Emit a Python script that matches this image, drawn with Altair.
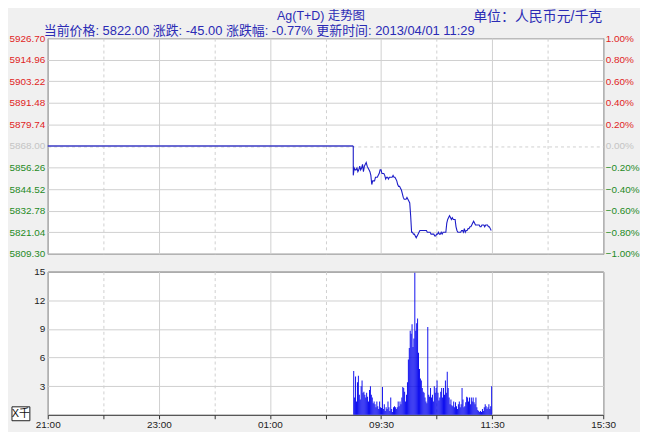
import altair as alt
import pandas as pd

# ---------------- data ----------------
preclose = 5868.00
price_ticks = [5809.30, 5821.04, 5832.78, 5844.52, 5856.26, 5868.00,
               5879.74, 5891.48, 5903.22, 5914.96, 5926.70]
pct_ticks = [-1.0, -0.8, -0.6, -0.4, -0.2, 0.0, 0.2, 0.4, 0.6, 0.8, 1.0]
vol_ticks = [3, 6, 9, 12, 15]
vol_max = 15
time_labels = ["21:00", "23:00", "01:00", "09:30", "11:30", "15:30"]
time_label_minutes = [0, 120, 240, 360, 480, 600]
time_half_minutes = [60, 180, 300, 420, 540]
session_minutes = 600
open_minute = 330  # 09:00 as trading-minute index of the session

# one value per trading minute from 09:00 to 11:29
prices = [
    5852, 5856, 5855, 5855, 5856, 5854, 5855, 5857, 5855, 5856,
    5858, 5854, 5857, 5858, 5859, 5857, 5856, 5855, 5854, 5852,
    5847, 5849, 5849, 5849, 5851, 5851, 5851, 5852, 5853, 5855,
    5855, 5853, 5853, 5853, 5852, 5850, 5851, 5851, 5850, 5851,
    5851, 5851, 5851, 5852, 5851, 5851, 5850, 5849, 5847, 5846,
    5846, 5845, 5844, 5842, 5840, 5839, 5839, 5839, 5840, 5839,
    5838, 5837, 5830, 5821, 5821, 5820, 5820, 5819, 5818, 5819,
    5820, 5821, 5822, 5822, 5822, 5822, 5822, 5822, 5822, 5822,
    5821, 5821, 5821, 5821, 5820, 5820, 5820, 5820, 5819, 5819,
    5820, 5820, 5821, 5820, 5820, 5821, 5820, 5821, 5821, 5821,
    5821, 5826, 5828, 5829, 5830, 5829, 5828, 5829, 5828, 5828,
    5828, 5824, 5822, 5821, 5821, 5821, 5821, 5822, 5822, 5821,
    5823, 5821, 5822, 5822, 5823, 5823, 5824, 5824, 5825, 5826,
    5827, 5826, 5825, 5825, 5825, 5825, 5825, 5824, 5824, 5825,
    5825, 5825, 5824, 5825, 5825, 5825, 5824, 5824, 5823, 5822,
]
volumes = [
    4.6, 1.8, 4.0, 1.4, 3.4, 4.1, 2.1, 1.6, 3.0, 3.6,
    2.3, 2.4, 2.1, 1.8, 2.3, 1.9, 1.4, 2.6, 3.0, 2.1,
    1.8, 1.2, 1.4, 1.1, 0.8, 1.4, 0.9, 0.6, 1.4, 0.8,
    0.7, 2.9, 0.6, 1.1, 0.4, 0.8, 0.6, 1.4, 0.8, 0.4,
    1.8, 0.6, 0.3, 0.8, 0.9, 0.8, 0.6, 0.8, 1.4, 0.9,
    1.4, 1.1, 1.8, 2.9, 2.8, 2.4, 1.4, 2.1, 3.4, 5.8,
    7.0, 8.8, 8.5, 9.5, 7.1, 8.0, 14.9, 8.8, 9.6, 10.1,
    6.5, 4.8, 3.8, 3.6, 2.8, 2.4, 2.3, 1.8, 1.4, 1.2,
    9.2, 2.1, 1.9, 2.8, 1.8, 2.1, 1.4, 3.0, 2.3, 2.8,
    3.6, 2.3, 1.5, 1.8, 2.4, 2.8, 1.8, 2.8, 2.1, 3.6,
    2.3, 4.5, 2.8, 1.8, 1.1, 1.6, 1.0, 0.9, 1.4, 0.8,
    1.3, 0.9, 0.6, 1.1, 1.4, 0.8, 1.1, 2.8, 1.6, 0.8,
    0.9, 1.3, 1.9, 1.8, 1.4, 1.8, 1.1, 1.8, 1.4, 1.8,
    1.3, 1.1, 1.8, 0.8, 0.5, 0.4, 0.3, 0.4, 0.3, 0.6,
    0.4, 0.8, 1.1, 0.9, 0.6, 0.8, 1.1, 0.6, 0.9, 3.0,
]

title_main = "Ag(T+D) 走势图"
title_unit = "单位：人民币元/千克"
subtitle = "当前价格: 5822.00 涨跌: -45.00 涨跌幅: -0.77% 更新时间: 2013/04/01 11:29"
vol_unit = "X千"

# ---------------- styles ----------------
RED = "#e02424"
GREEN = "#1f8a1f"
GRAY = "#c4c4c4"
TXT_BLUE = "#2b2bb5"
LINE = "#1c1cc8"
FLAT = "#3a3ac4"
BAR = "#0000ee"
GRID = "#d0d0d0"
LATIN = "Liberation Sans"
MIXED = "Liberation Sans, Noto Sans CJK SC"
W, H_TOP, H_BOT = 559, 217, 144
AX_EXT = 39

# ---------------- frames ----------------
minutes = list(range(open_minute, open_minute + len(prices)))
line_df = pd.DataFrame({"minute": [open_minute] + minutes,
                        "price": [preclose] + prices})
line_df["seq"] = range(len(line_df))
flat_df = pd.DataFrame({"minute": [0, open_minute], "price": [preclose, preclose]})
vol_df = pd.DataFrame({"minute": minutes, "vol": volumes})
pct_df = pd.DataFrame({"pct": pct_ticks})

grid_minutes = sorted(time_label_minutes + time_half_minutes)
major_step = time_label_minutes[1] - time_label_minutes[0]
label_expr = " : ".join(f"datum.value == {m} ? '{t}'"
                        for m, t in zip(time_label_minutes, time_labels)) + " : ''"

xscale = alt.Scale(domain=[0, session_minutes], nice=False, zero=False)
x_grid_dash = {"condition": {"test": f"datum.value % {major_step} != 0", "value": [3, 3]},
               "value": []}

# ---------------- top panel ----------------
x_top = alt.X("minute:Q", scale=xscale,
              axis=alt.Axis(values=grid_minutes, labels=False, ticks=False, domain=False,
                            grid=True, gridColor=GRID, gridDash=x_grid_dash, title=None))
price_axis = alt.Axis(
    values=price_ticks, format=".2f", orient="left", grid=True, gridColor=GRID,
    gridDash={"condition": {"test": f"abs(datum.value - {preclose}) < 0.001", "value": [3, 3]},
              "value": []},
    labelColor={"condition": [{"test": f"datum.value > {preclose} + 0.001", "value": RED},
                              {"test": f"datum.value < {preclose} - 0.001", "value": GREEN}],
                "value": GRAY},
    ticks=False, domain=False, labelPadding=3, labelFontSize=10, title=None,
    minExtent=AX_EXT, maxExtent=AX_EXT)
y_price = alt.Y("price:Q",
                scale=alt.Scale(domain=[price_ticks[0], price_ticks[-1]], nice=False, zero=False),
                axis=price_axis)

flat = alt.Chart(flat_df).mark_line(color=FLAT, strokeWidth=1.5).encode(x=x_top, y=y_price)
line = alt.Chart(line_df).mark_line(color=LINE, strokeWidth=1.1).encode(
    x=x_top, y=y_price, order="seq:Q")
price_layer = alt.layer(flat, line)

pct_layer = alt.Chart(pct_df).mark_point(opacity=0).encode(
    y=alt.Y("pct:Q", scale=alt.Scale(domain=[pct_ticks[0], pct_ticks[-1]], nice=False),
            axis=alt.Axis(orient="right", values=pct_ticks,
                          labelExpr="format(datum.value, '.2f') + '%'",
                          labelColor={"condition": [{"test": "datum.value > 0.0001", "value": RED},
                                                    {"test": "datum.value < -0.0001", "value": GREEN}],
                                      "value": GRAY},
                          grid=False, ticks=False, domain=False, title=None,
                          labelPadding=2, labelFontSize=10)))


def text_layer(s, x, y, **kw):
    return alt.Chart(pd.DataFrame({"t": [s]})).mark_text(**kw).encode(
        text="t:N", x=alt.value(x), y=alt.value(y))


t_main = text_layer(title_main, 275, -28, align="center", baseline="top",
                    font=MIXED, fontSize=12.5, color=TXT_BLUE)
t_unit = text_layer(title_unit, 558, -28, align="right", baseline="top",
                    font=MIXED, fontSize=14, color=TXT_BLUE)
t_sub = text_layer(subtitle, -4, -7, align="left", baseline="middle",
                   font=MIXED, fontSize=13, color=TXT_BLUE)

top = alt.layer(price_layer, pct_layer, t_main, t_unit, t_sub).resolve_scale(
    y="independent").properties(width=W, height=H_TOP)

# ---------------- bottom panel ----------------
x_bot = alt.X("minute:Q", scale=xscale,
              axis=alt.Axis(values=grid_minutes, labelExpr=label_expr, grid=True,
                            gridColor=GRID, gridDash=x_grid_dash, ticks=True, tickSize=4,
                            tickColor="#333333", domain=False, labelFontSize=10,
                            labelColor="#222222", labelPadding=1, labelFlush=False,
                            title=None))
bars = alt.Chart(vol_df).transform_calculate(
    minute_end="datum.minute + 1").mark_bar(color=BAR).encode(
    x=x_bot, x2="minute_end:Q",
    y=alt.Y("vol:Q", scale=alt.Scale(domain=[0, vol_max], nice=False),
            axis=alt.Axis(values=vol_ticks, grid=True, gridColor=GRID, ticks=False,
                          domain=False, labelFontSize=10, labelColor="#222222",
                          labelPadding=3, title=None, minExtent=AX_EXT, maxExtent=AX_EXT)),
    y2=alt.datum(0))

unit_df = pd.DataFrame({"t": [vol_unit]})
unit_box = alt.Chart(unit_df).mark_rect(fill="white", stroke="#222222", strokeWidth=1).encode(
    x=alt.value(-36), x2=alt.value(-18), y=alt.value(136), y2=alt.value(150))
unit_txt = alt.Chart(unit_df).mark_text(font=MIXED, fontSize=11, color="#111111",
                                        align="center", baseline="middle").encode(
    text="t:N", x=alt.value(-27), y=alt.value(143))

bottom = alt.layer(bars, unit_box, unit_txt).properties(width=W, height=H_BOT)

chart = alt.vconcat(top, bottom, spacing=6).properties(
    padding=0, background="#f0f0f0").configure_view(
    stroke="#222222", strokeWidth=1, fill="white").configure_axis(labelFont=LATIN)

chart.save("out.html", embed_options={"renderer": "svg", "actions": False})
